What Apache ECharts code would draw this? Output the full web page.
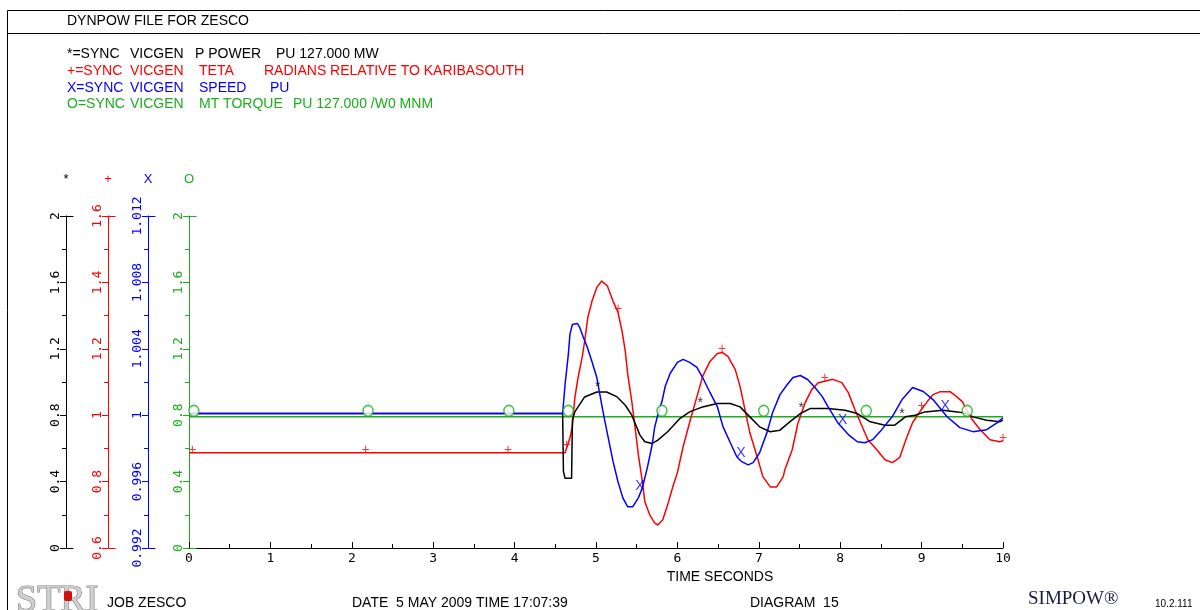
<!DOCTYPE html>
<html>
<head>
<meta charset="utf-8">
<script src="https://cdn.jsdelivr.net/npm/echarts@6/dist/echarts.min.js"></script>
<style>
  html, body { margin: 0; padding: 0; background: #fff; }
  #chart { width: 1200px; height: 610px; }
</style>
</head>
<body>
<div id="chart"></div>
<script>
// Time axis (seconds)
const timeTicks = [0, 1, 2, 3, 4, 5, 6, 7, 8, 9, 10];

// P POWER, PU 127 MW  [t, value]
const powerPU = [
  [0,0.81],[4.59,0.81],[4.60,0.46],[4.62,0.42],[4.70,0.42],[4.71,0.77],[4.74,0.82],[4.86,0.91],
  [5.01,0.94],[5.13,0.94],[5.26,0.91],[5.36,0.86],[5.44,0.80],[5.54,0.68],[5.60,0.64],[5.69,0.63],
  [5.76,0.65],[5.88,0.70],[6.03,0.78],[6.15,0.82],[6.31,0.85],[6.49,0.87],[6.65,0.87],[6.77,0.85],
  [6.89,0.79],[7.01,0.73],[7.14,0.70],[7.26,0.71],[7.38,0.76],[7.51,0.81],[7.63,0.84],[7.85,0.84],
  [8.06,0.83],[8.21,0.81],[8.37,0.76],[8.55,0.74],[8.67,0.74],[8.80,0.79],[8.92,0.80],[9.04,0.82],
  [9.26,0.83],[9.44,0.82],[9.56,0.81],[9.63,0.79],[9.80,0.77],[9.96,0.76],[10,0.77]
];

// TETA, radians relative to KARIBASOUTH
const tetaRad = [
  [0,0.887],[4.62,0.887],[4.68,0.932],[4.71,0.966],[4.74,1.053],[4.78,1.114],[4.83,1.174],[4.86,1.222],
  [4.90,1.295],[4.95,1.343],[5.01,1.385],[5.07,1.404],[5.14,1.389],[5.21,1.343],[5.27,1.310],[5.32,1.253],
  [5.36,1.192],[5.39,1.123],[5.44,1.041],[5.48,0.963],[5.52,0.881],[5.57,0.799],[5.60,0.739],[5.66,0.700],
  [5.72,0.676],[5.76,0.669],[5.82,0.685],[5.88,0.730],[5.95,0.790],[6.00,0.827],[6.07,0.905],[6.16,0.987],
  [6.24,1.056],[6.31,1.117],[6.40,1.162],[6.49,1.186],[6.55,1.189],[6.62,1.177],[6.71,1.138],[6.77,1.086],
  [6.83,1.017],[6.89,0.947],[6.98,0.875],[7.05,0.815],[7.14,0.784],[7.22,0.784],[7.30,0.815],[7.32,0.836],
  [7.41,0.896],[7.48,0.975],[7.57,1.038],[7.65,1.077],[7.73,1.098],[7.81,1.102],[7.91,1.108],[8.02,1.098],
  [8.10,1.068],[8.18,1.017],[8.27,0.966],[8.34,0.926],[8.45,0.896],[8.55,0.866],[8.64,0.857],[8.73,0.872],
  [8.82,0.935],[8.89,0.978],[8.98,1.011],[9.07,1.041],[9.14,1.062],[9.23,1.071],[9.35,1.071],[9.43,1.056],
  [9.50,1.041],[9.62,0.987],[9.72,0.956],[9.84,0.926],[9.96,0.920],[10,0.923]
];

// SPEED, PU
const speedPU = [
  [0,1.0001],[4.59,1.0001],[4.62,1.00185],[4.66,1.00366],[4.68,1.00487],[4.71,1.00547],[4.77,1.00553],
  [4.80,1.00529],[4.84,1.00475],[4.89,1.00414],[4.95,1.00324],[5.01,1.00227],[5.07,1.00064],[5.11,0.99961],
  [5.15,0.99865],[5.21,0.99720],[5.27,0.99599],[5.33,0.99502],[5.39,0.99448],[5.45,0.99448],[5.52,0.99502],
  [5.57,0.99563],[5.63,0.99683],[5.69,0.99822],[5.72,0.99925],[5.76,1.00004],[5.81,1.00082],[5.85,1.00173],
  [5.91,1.00251],[6.00,1.00318],[6.07,1.00336],[6.15,1.00318],[6.24,1.00288],[6.31,1.00227],[6.40,1.00137],
  [6.49,1.00052],[6.56,0.99931],[6.65,0.99834],[6.73,0.99750],[6.79,0.99720],[6.87,0.99701],[6.93,0.99714],
  [7.01,0.99774],[7.10,0.99895],[7.17,1.00016],[7.26,1.00124],[7.35,1.00185],[7.42,1.00227],[7.51,1.00239],
  [7.60,1.00215],[7.69,1.00167],[7.78,1.00112],[7.85,1.00052],[7.97,0.99955],[8.10,0.99883],[8.21,0.99840],
  [8.30,0.99834],[8.40,0.99853],[8.51,0.99913],[8.64,0.99992],[8.76,1.00094],[8.89,1.00167],[9.02,1.00143],
  [9.14,1.00094],[9.31,0.99992],[9.47,0.99925],[9.63,0.99901],[9.80,0.99913],[9.93,0.99955],[10,0.99985]
];

// MT TORQUE, PU 127 MW/W0
const torquePU = [[0,0.79],[10,0.79]];

// Curve identification symbols along each trace (times, s)
const powerMarks  = [5.02, 6.28, 7.52, 8.76];
const tetaMarks   = [0.04, 2.17, 3.92, 4.64, 5.27, 6.55, 7.81, 9.00, 10.0];
const speedMarks  = [5.54, 6.78, 8.03, 9.29];
const torqueMarks = [0.06, 2.20, 3.93, 4.66, 5.81, 7.06, 8.32, 9.56, 10.04];

// Axis ranges: [min, max, interval]
const powerRange  = [0, 2, 0.4];
const tetaRange   = [0.6, 1.6, 0.2];
const speedRange  = [0.992, 1.012, 0.004];
const torqueRange = [0, 2, 0.4];

const headerLines = [
  { color: '#000000', y: 54,  parts: [[67, '*=SYNC'], [130, 'VICGEN'], [195, 'P POWER'], [276, 'PU 127.000 MW']] },
  { color: '#ff0000', y: 71,  parts: [[67, '+=SYNC'], [130, 'VICGEN'], [199, 'TETA'], [264, 'RADIANS RELATIVE TO KARIBASOUTH']] },
  { color: '#0000ff', y: 88,  parts: [[67, 'X=SYNC'], [130, 'VICGEN'], [199, 'SPEED'], [270, 'PU']] },
  { color: '#1cae1c', y: 104, parts: [[67, 'O=SYNC'], [130, 'VICGEN'], [199, 'MT TORQUE'], [293, 'PU 127.000 /W0 MNM']] }
];

const BLACK = '#000000', RED = '#ff0000', BLUE = '#0000ff', GREEN = '#1cae1c';
const MONO = '"DejaVu Sans Mono", monospace';
const SANS = '"Liberation Sans", Arial, sans-serif';

// y-axes: colour, range, offset to the left of the plot, name symbol
const axisDefs = [
  { color: BLACK, range: powerRange,  offset: 123, name: '*' },
  { color: RED,   range: tetaRange,   offset: 81,  name: '+' },
  { color: BLUE,  range: speedRange,  offset: 41,  name: 'X' },
  { color: GREEN, range: torqueRange, offset: 0,   name: 'O' }
];

function interpAt(data, t) {
  if (t <= data[0][0]) return data[0][1];
  for (let i = 1; i < data.length; i++) {
    if (t <= data[i][0]) {
      const a = data[i - 1], b = data[i];
      const k = (t - a[0]) / (b[0] - a[0] || 1);
      return a[1] + k * (b[1] - a[1]);
    }
  }
  return data[data.length - 1][1];
}

function fmt(v) { return String(+v.toFixed(4)); }

function yAxis(d) {
  return {
    type: 'value', position: 'left', offset: d.offset,
    min: d.range[0], max: d.range[1], interval: d.range[2],
    name: d.name, nameLocation: 'end', nameGap: 30,
    nameTextStyle: { color: d.color, fontFamily: SANS, fontSize: 13, align: 'center' },
    axisLine: { show: true, onZero: false, lineStyle: { color: d.color, width: 1 } },
    axisTick: { show: true, length: 6, lineStyle: { color: d.color, width: 1 } },
    minorTick: { show: true, splitNumber: 2, length: 4, lineStyle: { color: d.color, width: 1 } },
    splitLine: { show: false }, minorSplitLine: { show: false },
    axisLabel: { color: d.color, rotate: 90, margin: 4, fontFamily: MONO, fontSize: 13, formatter: fmt }
  };
}

function lineSeries(data, axis, color, z) {
  return {
    type: 'line', yAxisIndex: axis, data: data, showSymbol: false, symbol: 'none',
    lineStyle: { color: color, width: 1.5 }, z: z, animation: false, silent: true
  };
}

function markSeries(data, marks, axis, color, ch, dy, z) {
  return {
    type: 'scatter', yAxisIndex: axis, z: z, animation: false, silent: true,
    data: marks.map(t => [t, interpAt(data, t)]),
    symbolSize: 1, itemStyle: { color: 'rgba(0,0,0,0)' },
    label: { show: true, position: 'inside', formatter: ch, color: color,
             fontFamily: SANS, fontSize: 14, offset: [0, dy] }
  };
}

const graphics = [
  { type: 'rect', shape: { x: 7.5, y: 10.5, width: 1400, height: 800 },
    style: { fill: 'none', stroke: '#000', lineWidth: 1 }, silent: true },
  { type: 'line', shape: { x1: 7.5, y1: 33.5, x2: 1400, y2: 33.5 },
    style: { stroke: '#000', lineWidth: 1 }, silent: true },
  { type: 'text', x: 67, y: 21, silent: true,
    style: { text: 'DYNPOW FILE FOR ZESCO', fill: '#000', font: '14px ' + SANS, textVerticalAlign: 'middle' } },
  { type: 'text', x: 720, y: 577, silent: true,
    style: { text: 'TIME SECONDS', fill: '#000', font: '14px ' + SANS, textAlign: 'center', textVerticalAlign: 'middle' } },
  { type: 'text', x: 107, y: 603, silent: true,
    style: { text: 'JOB ZESCO', fill: '#000', font: '14px ' + SANS, textVerticalAlign: 'middle' } },
  { type: 'text', x: 352, y: 603, silent: true,
    style: { text: 'DATE  5 MAY 2009 TIME 17:07:39', fill: '#000', font: '14px ' + SANS, textVerticalAlign: 'middle' } },
  { type: 'text', x: 750, y: 603, silent: true,
    style: { text: 'DIAGRAM  15', fill: '#000', font: '14px ' + SANS, textVerticalAlign: 'middle' } },
  { type: 'text', x: 1028, y: 599, silent: true,
    style: { text: 'SIMPOW\u00AE', fill: '#1a1a40', font: '19px "Liberation Serif", serif', textVerticalAlign: 'middle' } },
  { type: 'text', x: 1155, y: 604, silent: true,
    style: { text: '10.2.111', fill: '#000', font: '10px ' + SANS, textVerticalAlign: 'middle' } },
  { type: 'text', x: 16, y: 601, silent: true,
    style: { text: 'STRI', fill: '#cfcfcf', stroke: '#808080', lineWidth: 1.2,
             font: '38px "Liberation Serif", serif', textVerticalAlign: 'middle' } },
  { type: 'rect', shape: { x: 64, y: 591, width: 8, height: 10, r: 2 },
    style: { fill: '#d01010' }, silent: true }
];
headerLines.forEach(line => {
  line.parts.forEach(p => {
    graphics.push({ type: 'text', x: p[0], y: line.y, silent: true,
      style: { text: p[1], fill: line.color, font: '14px ' + SANS, textVerticalAlign: 'middle' } });
  });
});

const chart = echarts.init(document.getElementById('chart'), null, { renderer: 'canvas' });
chart.setOption({
  animation: false,
  backgroundColor: '#ffffff',
  grid: { left: 189, right: 197, top: 216, bottom: 62, containLabel: false, outerBoundsMode: 'none' },
  xAxis: {
    type: 'value', min: 0, max: 10, interval: 1,
    axisLine: { show: true, onZero: false, lineStyle: { color: '#000', width: 1 } },
    axisTick: { show: true, inside: true, length: 6, lineStyle: { color: '#000' } },
    minorTick: { show: true, splitNumber: 2, length: 4, lineStyle: { color: '#000' } },
    splitLine: { show: false }, minorSplitLine: { show: false },
    axisLabel: { color: '#000', margin: 4, fontFamily: MONO, fontSize: 13,
                 formatter: v => timeTicks.indexOf(v) >= 0 ? String(v) : '' }
  },
  yAxis: axisDefs.map(yAxis),
  series: [
    lineSeries(torquePU, 3, GREEN, 2),
    lineSeries(tetaRad, 1, RED, 3),
    lineSeries(powerPU, 0, BLACK, 4),
    lineSeries(speedPU, 2, BLUE, 5),
    markSeries(powerPU, powerMarks, 0, BLACK, '*', -5, 6),
    markSeries(tetaRad, tetaMarks, 1, RED, '+', -3, 6),
    markSeries(speedPU, speedMarks, 2, BLUE, 'X', -8, 6),
    {
      type: 'scatter', yAxisIndex: 3, z: 7, animation: false, silent: true,
      data: torqueMarks.map(t => [t, interpAt(torquePU, t)]),
      symbol: 'circle', symbolSize: [10, 11], symbolOffset: [0, -6],
      itemStyle: { color: '#ffffff', borderColor: GREEN, borderWidth: 1.5 }
    }
  ],
  graphic: graphics
});

// Short end caps on each y-axis (top and bottom), pointing into the plot
const x0 = chart.convertToPixel({ xAxisIndex: 0 }, 0);
const caps = [];
axisDefs.forEach((d, i) => {
  const ax = Math.round(x0 - d.offset) + 0.5;
  [d.range[0], d.range[1]].forEach(v => {
    const y = Math.round(chart.convertToPixel({ yAxisIndex: i }, v)) + 0.5;
    caps.push({ type: 'line', silent: true, z: 10,
      shape: { x1: ax, y1: y, x2: ax + 7, y2: y },
      style: { stroke: d.color, lineWidth: 1 } });
  });
});
chart.setOption({ graphic: graphics.concat(caps) });
</script>
</body>
</html>
